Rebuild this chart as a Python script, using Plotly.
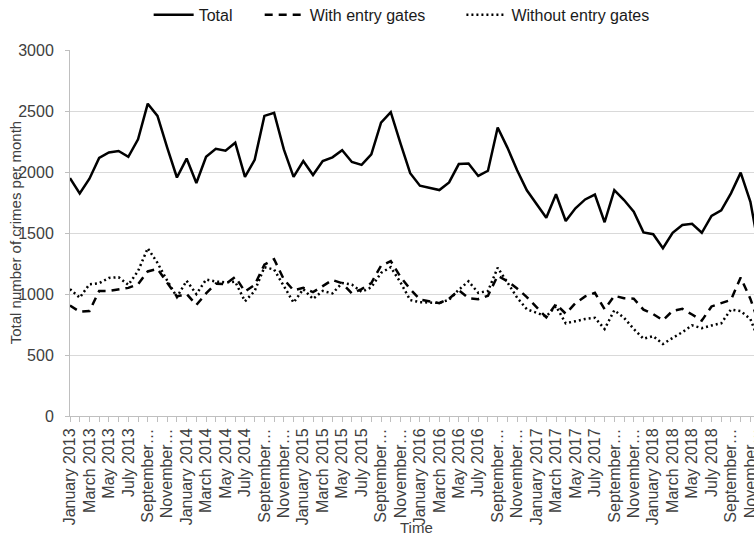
import plotly.graph_objects as go

# ---- data -------------------------------------------------------------
month_names = ["January", "February", "March", "April", "May", "June", "July",
               "August", "September", "October", "November", "December"]
years = [2013, 2014, 2015, 2016, 2017, 2018]
categories = [f"{m} {y}" for y in years for m in month_names]

total = [1950, 1825, 1945, 2115, 2160, 2172, 2125, 2268, 2560, 2460, 2200, 1955,
         2110, 1910, 2125, 2190, 2175, 2240, 1960, 2100, 2460, 2485, 2185, 1960,
         2090, 1975, 2090, 2120, 2178, 2082, 2058, 2145, 2405, 2490, 2235, 1990,
         1888, 1870, 1852, 1915, 2065, 2070, 1968, 2010, 2365, 2200, 2015, 1850,
         1742, 1625, 1818, 1598, 1702, 1775, 1815, 1588, 1852, 1770, 1675, 1505,
         1490, 1375, 1502, 1565, 1575, 1502, 1640, 1685, 1825, 1995, 1755, 1320]

with_gates = [905, 855, 860, 1025, 1025, 1035, 1050, 1080, 1185, 1205, 1090, 980,
              1000, 910, 1005, 1085, 1080, 1140, 1020, 1075, 1240, 1285, 1120, 1030,
              1050, 1015, 1065, 1115, 1088, 1005, 1040, 1090, 1232, 1270, 1140, 1040,
              955, 940, 925, 962, 1030, 966, 958, 986, 1150, 1105, 1045, 975,
              895, 808, 918, 838, 925, 980, 1010, 875, 985, 965, 962, 872,
              835, 785, 862, 878, 832, 782, 898, 925, 952, 1135, 960, 730]

without_gates = [1040, 970, 1080, 1088, 1132, 1138, 1075, 1188, 1375, 1255, 1110, 975,
                 1108, 1000, 1118, 1102, 1095, 1100, 940, 1025, 1220, 1200, 1065, 930,
                 1040, 960, 1025, 1005, 1090, 1077, 1018, 1055, 1173, 1220, 1095, 950,
                 933, 930, 927, 953, 1035, 1104, 1010, 1024, 1215, 1095, 970, 875,
                 847, 817, 900, 760, 777, 795, 805, 713, 867, 805, 713, 633,
                 655, 590, 640, 687, 743, 720, 742, 760, 873, 860, 795, 590]

series_names = ["Total", "With entry gates", "Without entry gates"]

# Excel truncates the long labels with an ellipsis
tick_labels = []
for i, c in enumerate(categories):
    if i % 2:
        tick_labels.append("")
    else:
        name = c.split()[0]
        tick_labels.append(name + "\u2026" if name in ("September", "November") else c)

x_idx = list(range(len(categories)))

# ---- figure -----------------------------------------------------------
FONT = "Liberation Sans, Arial, sans-serif"
TXT = "#404040"
NB = "\u00a0"
pad = [5, 7, 0]  # legend spacing between entries

fig = go.Figure()
styles = ["solid", "8px,6px", "2px,3px"]
for name, ys, dash, p in zip(series_names, [total, with_gates, without_gates], styles, pad):
    fig.add_trace(go.Scatter(x=x_idx, y=ys, name=name + NB * p, mode="lines",
                             line=dict(color="#000000", width=2.5, dash=dash)))

fig.update_layout(
    width=754, height=536,
    margin=dict(l=70, r=0, t=50, b=120, autoexpand=False),
    paper_bgcolor="white", plot_bgcolor="white",
    font=dict(family=FONT, size=15, color=TXT),
    showlegend=True,
    legend=dict(orientation="h", x=0.115, xanchor="left", y=1.096, yanchor="middle",
                font=dict(size=16, color="#1a1a1a"), itemwidth=40,
                bgcolor="rgba(0,0,0,0)"),
    xaxis=dict(
        range=[0, 70.37], automargin=False,
        tickmode="array", tickvals=x_idx, ticktext=tick_labels,
        tickangle=-90, tickfont=dict(size=16, color=TXT),
        ticklabeloverflow="allow",
        ticks="outside", ticklen=5, tickcolor="#bfbfbf", tickwidth=1,
        showline=True, linecolor="#bfbfbf", linewidth=1,
        showgrid=False, zeroline=False,
    ),
    yaxis=dict(
        range=[0, 3000], automargin=False,
        tickmode="array", tickvals=[0, 500, 1000, 1500, 2000, 2500, 3000],
        tickfont=dict(size=16, color=TXT),
        ticks="outside", ticklen=4, tickcolor="#bfbfbf", ticklabelstandoff=8,
        showline=True, linecolor="#bfbfbf", linewidth=1,
        showgrid=True, gridcolor="#d9d9d9", gridwidth=1.3, zeroline=False,
    ),
    annotations=[
        dict(text="Total number of crimes per month", textangle=-90,
             xref="paper", yref="paper", x=-0.08, y=0.5,
             xanchor="center", yanchor="middle", showarrow=False,
             font=dict(size=15, color=TXT)),
        dict(text="Time", xref="paper", yref="paper", x=0.506, y=-0.306,
             xanchor="center", yanchor="middle", showarrow=False,
             font=dict(size=15, color=TXT)),
    ],
)

# remove the default page margin so the 754x536 figure fills the window
fig.write_html("out.html",
               config={"displayModeBar": False},
               post_script="document.body.style.margin='0';document.body.style.overflow='hidden';")
